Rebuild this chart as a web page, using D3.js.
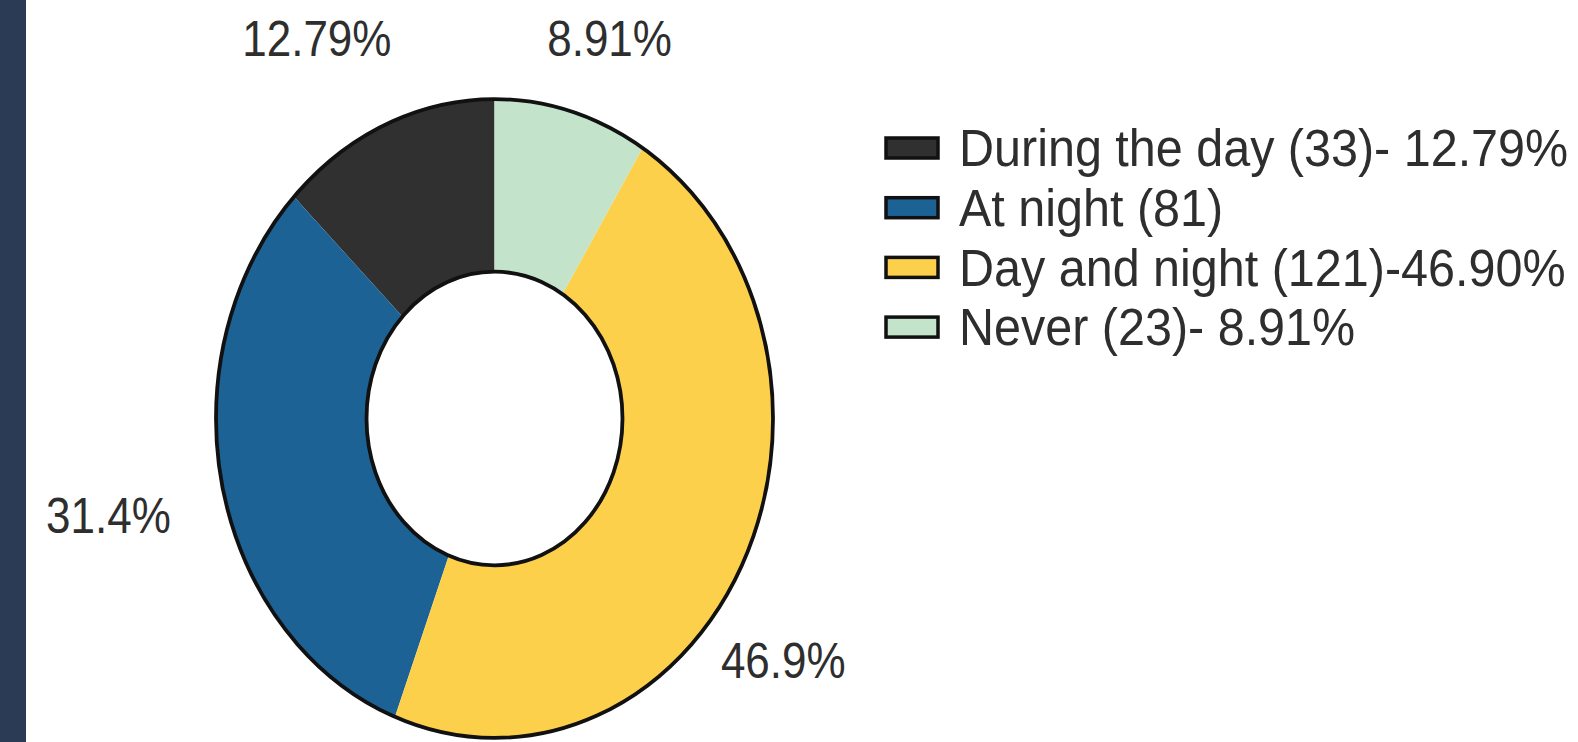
<!DOCTYPE html>
<html>
<head>
<meta charset="utf-8">
<script src="https://cdn.jsdelivr.net/npm/d3@7"></script>
<style>
  body { margin: 0; background: #fff; }
  svg { display: block; }
  text { font-family: "Liberation Sans", Arial, sans-serif; fill: #2e2e2e; }
</style>
</head>
<body>
<svg id="chart"></svg>
<script>
// values
const categories = ["During the day", "At night", "Day and night", "Never"];
const counts = [33, 81, 121, 23];
const sliceLabels = ["12.79%", "31.4%", "46.9%", "8.91%"];
const legendLabels = ["During the day (33)- 12.79%", "At night (81)", "Day and night (121)-46.90%", "Never (23)- 8.91%"];

// the percentage labels were nudged by hand in the original: angle shift (deg) and distance from centre
const labelShift = [-2, -1.5, 13.5, 0.8];
const labelDist = [420, 398, 377, 397];

const width = 1578;
const height = 742;
const svg = d3.select("#chart").attr("width", width).attr("height", height);

// dark strip on the left
svg.append("rect").attr("x", 0).attr("y", 0).attr("width", 26).attr("height", height).attr("fill", "#2b3a55");

const color = d3.scaleOrdinal()
    .domain(categories)
    .range(["#303030", "#1c6295", "#fdd04b", "#c4e3cb"]);

const data = categories.map((c, i) => ({
    name: c, count: counts[i], label: sliceLabels[i], legend: legendLabels[i],
    shift: labelShift[i], dist: labelDist[i]
}));

const cx = 494.5, cy = 418.5;
const outerR = 278.5, innerR = 128;
const stretch = 1.147; // the picture is squashed into an ellipse

// counter-clockwise from 12 o'clock
const pie = d3.pie().value(d => d.count).sort(null).startAngle(0).endAngle(-2 * Math.PI);
const arcs = pie(data);
const arc = d3.arc().innerRadius(innerR).outerRadius(outerR);

const donut = svg.append("g").attr("transform", `translate(${cx},${cy}) scale(1,${stretch})`);

donut.selectAll("path.slice")
    .data(arcs)
    .enter()
    .append("path")
    .attr("class", "slice")
    .attr("d", arc)
    .attr("fill", d => color(d.data.name));

[outerR, innerR].forEach(r => {
    donut.append("circle")
        .attr("r", r)
        .attr("fill", "none")
        .attr("stroke", "#111")
        .attr("stroke-width", 3.8)
        .attr("vector-effect", "non-scaling-stroke");
});

const labels = svg.append("g").attr("transform", `translate(${cx},${cy})`);
labels.selectAll("text")
    .data(arcs)
    .enter()
    .append("text")
    .attr("transform", d => {
        const shift = d.data.shift * Math.PI / 180;
        const labelArc = d3.arc().innerRadius(d.data.dist).outerRadius(d.data.dist);
        const [x, y] = labelArc.centroid({ startAngle: d.startAngle + shift, endAngle: d.endAngle + shift });
        return `translate(${x},${y}) scale(1,${stretch})`;
    })
    .attr("text-anchor", "middle")
    .attr("dominant-baseline", "central")
    .style("font-size", "44px")
    .text(d => d.data.label);

// legend
const legend = svg.append("g").attr("transform", "translate(886,148)");
const rows = legend.selectAll("g")
    .data(data)
    .enter()
    .append("g")
    .attr("transform", (d, i) => `translate(0,${i * 59.7})`);

rows.append("rect")
    .attr("x", 0)
    .attr("y", -10)
    .attr("width", 52)
    .attr("height", 20)
    .attr("fill", d => color(d.name))
    .attr("stroke", "#111")
    .attr("stroke-width", 3.5);

rows.append("text")
    .attr("transform", `translate(73,0) scale(1,1.08)`)
    .attr("dominant-baseline", "central")
    .style("font-size", "48.5px")
    .text(d => d.legend);
</script>
</body>
</html>
